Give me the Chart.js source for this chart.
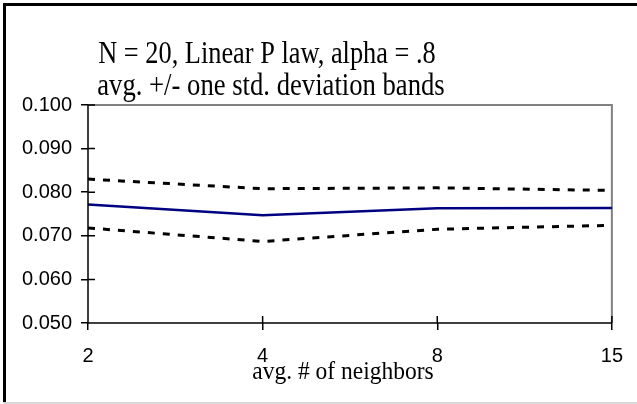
<!DOCTYPE html>
<html>
<head>
<meta charset="utf-8">
<script src="https://cdn.jsdelivr.net/npm/chart.js@4/dist/chart.umd.min.js"></script>
<style>
  html, body { margin: 0; padding: 0; background: #fff; }
  #wrap { width: 637px; height: 404px; }
</style>
</head>
<body>
<div id="wrap"><canvas id="lineChart" width="637" height="404"></canvas></div>
<script>
// chart data
const neighbors = ['2', '4', '8', '15'];
const avgValues = [0.0772, 0.0747, 0.0763, 0.0764];
const upperBand = [0.0830, 0.0808, 0.0810, 0.0804];
const lowerBand = [0.0718, 0.0687, 0.0715, 0.0724];
const yTicks = [0.050, 0.060, 0.070, 0.080, 0.090, 0.100];
const titleLines = ['N = 20, Linear P law, alpha = .8', 'avg. +/- one std. deviation bands'];
const xTitle = 'avg. # of neighbors';

// draws text squeezed horizontally (the original serif is narrow)
function narrowText(ctx, text, x, y, font, sx) {
    ctx.save();
    ctx.font = font;
    ctx.translate(x, y);
    ctx.scale(sx, 1);
    ctx.fillText(text, 0, 0);
    ctx.restore();
}

// frame, titles, plot border and cross ticks
const decor = {
    id: 'decor',
    beforeDraw(chart) {
        const ctx = chart.ctx;
        ctx.save();
        ctx.fillStyle = '#fff';
        ctx.fillRect(0, 0, chart.width, chart.height);
        ctx.fillStyle = '#000';
        ctx.fillRect(3, 3, chart.width, 3);
        ctx.fillRect(3, 3, 3, chart.height);
        ctx.fillStyle = '#d8d8d8';
        ctx.fillRect(3, 402, chart.width, 2);
        const a = chart.chartArea;
        ctx.strokeStyle = '#808080';
        ctx.lineWidth = 2;
        ctx.beginPath();
        ctx.moveTo(a.left, a.top);
        ctx.lineTo(a.right, a.top);
        ctx.lineTo(a.right, a.bottom);
        ctx.stroke();
        ctx.restore();
    },
    afterDraw(chart) {
        const ctx = chart.ctx;
        const a = chart.chartArea;
        ctx.save();
        ctx.strokeStyle = '#000';
        ctx.lineWidth = 1.5;
        ctx.beginPath();
        ctx.moveTo(a.left, a.top);
        ctx.lineTo(a.left, a.bottom);
        ctx.lineTo(a.right, a.bottom);
        const ys = chart.scales.y;
        ys.ticks.forEach((t, i) => {
            const py = ys.getPixelForTick(i);
            ctx.moveTo(a.left, py);
            ctx.lineTo(a.left + 7, py);
        });
        const xs = chart.scales.x;
        xs.ticks.forEach((t, i) => {
            const px = xs.getPixelForTick(i);
            ctx.moveTo(px, a.bottom);
            ctx.lineTo(px, a.bottom - 7);
        });
        ctx.stroke();

        ctx.fillStyle = '#000';
        ctx.textAlign = 'center';
        ctx.textBaseline = 'alphabetic';
        const serif = '"Liberation Serif", "Times New Roman", serif';
        narrowText(ctx, titleLines[0], 267, 63, '31px ' + serif, 0.85);
        narrowText(ctx, titleLines[1], 271, 95, '31px ' + serif, 0.86);
        narrowText(ctx, xTitle, 343, 379, '25px ' + serif, 0.94);
        ctx.restore();
    }
};

new Chart(
    document.getElementById('lineChart'),
    {
        type: 'line',
        data: {
            labels: neighbors,
            datasets: [{
                label: 'avg',
                data: avgValues,
                borderColor: '#000080',
                borderWidth: 2.5,
                pointRadius: 0,
                fill: false,
                tension: 0
            },
            {
                label: 'avg + sd',
                data: upperBand,
                borderColor: '#000',
                borderWidth: 3,
                borderDash: [7, 8],
                pointRadius: 0,
                fill: false,
                tension: 0
            },
            {
                label: 'avg - sd',
                data: lowerBand,
                borderColor: '#000',
                borderWidth: 3,
                borderDash: [7, 8],
                pointRadius: 0,
                fill: false,
                tension: 0
            }]
        },
        plugins: [decor],
        options: {
            responsive: false,
            animation: false,
            layout: {
                padding: { left: 0, right: 22, top: 105, bottom: 0 }
            },
            plugins: {
                legend: { display: false },
                title: { display: false },
                tooltip: { enabled: false }
            },
            scales: {
                x: {
                    offset: false,
                    grid: {
                        drawOnChartArea: false,
                        drawTicks: true,
                        tickLength: 7,
                        color: '#000',
                        lineWidth: 1.5
                    },
                    border: { display: false },
                    ticks: {
                        color: '#000',
                        padding: 14,
                        maxRotation: 0,
                        font: { family: "'Liberation Sans', Arial, sans-serif", size: 20 }
                    },
                    afterFit(scale) { scale.height = 81; }
                },
                y: {
                    min: 0.05,
                    max: 0.1,
                    afterBuildTicks(scale) {
                        scale.ticks = yTicks.map(v => ({ value: v }));
                    },
                    grid: {
                        drawOnChartArea: false,
                        drawTicks: true,
                        tickLength: 7,
                        color: '#000',
                        lineWidth: 1.5
                    },
                    border: { display: false },
                    ticks: {
                        color: '#000',
                        padding: 9,
                        callback: (v) => Number(v).toFixed(3),
                        font: { family: "'Liberation Sans', Arial, sans-serif", size: 20 }
                    },
                    afterFit(scale) { scale.width = 88; }
                }
            }
        }
    }
);
</script>
</body>
</html>
